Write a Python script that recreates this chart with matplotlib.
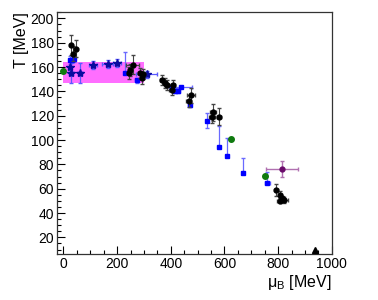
import numpy as np
import matplotlib
matplotlib.use("Agg")
import matplotlib.pyplot as plt
from matplotlib.ticker import MultipleLocator

plt.rcParams['font.family'] = ['Liberation Sans', 'DejaVu Sans']

# lattice band
band_mu = [0, 300]
band_T = [146.5, 164]

# black points: mu, T, xerr, yerr
blk_mu = [28, 46, 37, 258, 248, 244, 285, 295, 292, 366, 378, 384, 409, 403,
          474, 467, 557, 554, 580, 793, 808, 815, 820, 805]
blk_T = [178, 175, 171, 162, 157.5, 155, 155.2, 154, 150.7, 149.3, 147, 145.2,
         145.2, 141, 136.7, 131.8, 123, 119, 119, 59, 55, 52, 50.5, 50.3]
blk_xe = [3, 3, 3, 25, 8, 8, 8, 8, 5, 8, 8, 8, 8, 8, 15, 10, 10, 10, 8, 5, 5,
          10, 15, 8]
blk_ye = [8, 7, 6, 8, 5, 5, 4, 4, 5, 4, 4, 4, 4, 4, 6, 5, 7, 5, 7, 5, 3, 2, 2, 2]

# blue points (asymmetric T errors)
blu_mu = [25, 40, 33, 229, 273, 403, 415, 428, 438, 470, 535, 580, 610, 669, 760]
blu_T = [165.7, 167, 166, 155, 149, 143.3, 140.5, 140.5, 144, 128.8, 116,
         94.6, 86.7, 72.5, 64.6]
blu_xe = [3, 3, 3, 5, 5, 8, 8, 8, 40, 5, 5, 5, 3, 3, 10]
blu_ylo = [3, 3, 3, 0, 2, 2, 2, 2, 0, 2, 6, 0, 0, 0, 0]
blu_yhi = [3, 3, 3, 17, 2, 2, 2, 2, 0, 2, 6, 17, 15, 13, 9]

# blue stars
star_mu = [25, 28, 63, 111, 165, 200, 310]
star_T = [159.7, 155.5, 155, 161.6, 162.6, 163.4, 154]
star_xe = [5, 8, 8, 15, 20, 15, 40]
star_ye = [5, 8.5, 8.5, 3, 3, 3, 3]

# green points
grn_mu = [0, 626, 750]
grn_T = [157, 100.6, 70.5]

# purple point
pur_mu = [815]
pur_T = [76.3]
pur_xe = [59]
pur_ye = [6.6]

# triangle
tri_mu = [938]
tri_T = [10]

fig = plt.figure(figsize=(3.78, 3.0), dpi=100)
ax = fig.add_axes([0.150, 0.152, 0.728, 0.807])

ax.fill_between(band_mu, band_T[0], band_T[1], color='#ff6eff', lw=0, zorder=1)

ax.errorbar(blk_mu, blk_T, xerr=blk_xe, yerr=blk_ye, fmt='o', color='black',
            ms=3.5, ecolor='#444444', elinewidth=0.8, capsize=1.2, zorder=4)
ax.errorbar(blu_mu, blu_T, xerr=blu_xe, yerr=[blu_ylo, blu_yhi], fmt='s',
            color='#0000ff', ms=3.5, ecolor='#6a6aff', elinewidth=0.9,
            capsize=1.2, zorder=3)
ax.errorbar(star_mu, star_T, xerr=star_xe, yerr=star_ye, fmt='*',
            color='#0a0aa0', ms=6, ecolor='#5a5aff', elinewidth=0.9,
            capsize=1.2, zorder=3)
ax.plot(grn_mu, grn_T, 'o', color='#0f7a0f', ms=4, zorder=4)
ax.errorbar(pur_mu, pur_T, xerr=pur_xe, yerr=pur_ye, fmt='o', color='#6a0a6a',
            ms=3.5, ecolor='#b070b0', elinewidth=1.0, capsize=1.5, zorder=3)
ax.plot(tri_mu, tri_T, '^', color='black', ms=5, zorder=4)

ax.set_xlim(-25, 1000)
ax.set_ylim(6, 205)
ax.xaxis.set_major_locator(MultipleLocator(200))
ax.xaxis.set_minor_locator(MultipleLocator(50))
ax.yaxis.set_major_locator(MultipleLocator(20))
ax.yaxis.set_minor_locator(MultipleLocator(5))
ax.set_yticks([20, 40, 60, 80, 100, 120, 140, 160, 180, 200])
ax.tick_params(which='both', direction='in', top=False, right=False,
               labelsize=10, pad=2)
ax.tick_params(which='major', length=6, width=0.8)
ax.tick_params(which='minor', length=3, width=0.8)
for s in ax.spines.values():
    s.set_linewidth(0.9)
    s.set_color('#333333')

ax.set_xlabel(r'$\mathregular{\mu_B}$ [MeV]', fontsize=11.5, loc='right', labelpad=1)
ax.set_ylabel('T [MeV]', fontsize=11.5, loc='top', labelpad=1)

fig.savefig('out.png', dpi=100)
